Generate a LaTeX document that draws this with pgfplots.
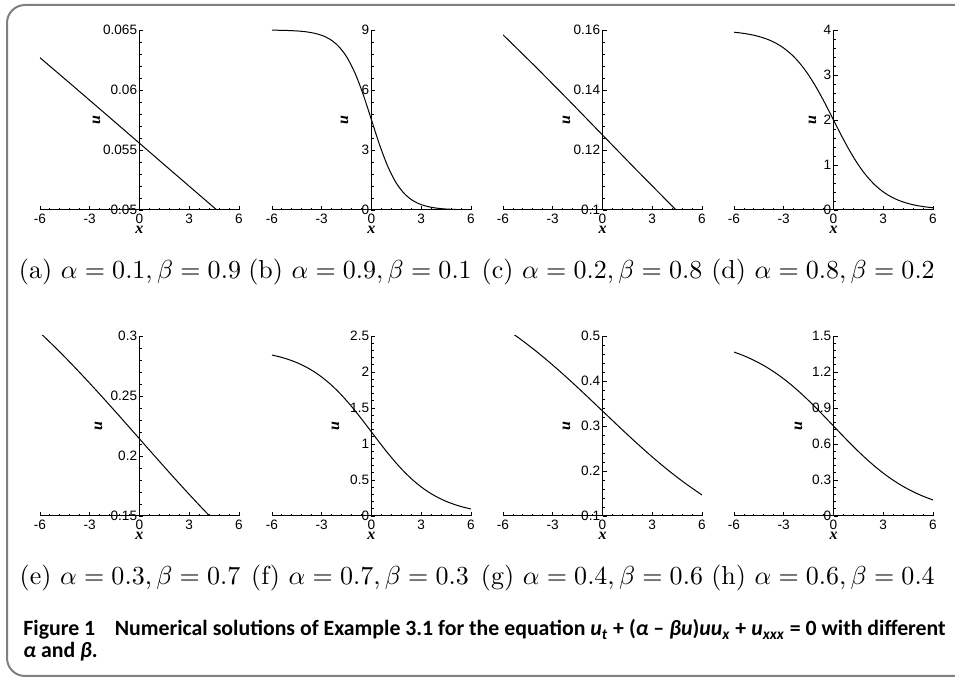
\documentclass[border=0pt]{standalone}
\usepackage{graphicx}
\usepackage{fontspec}
\usepackage{pgfplots}
\pgfplotsset{compat=1.18}
\newfontfamily\ticksf{Liberation Sans}
\newfontfamily\labsf{Liberation Serif}
\newfontfamily\capsf{Carlito}
\newcommand\tickfont{\fontsize{6.8}{8}\selectfont\ticksf}
\newcommand\labfont{\fontsize{8}{9}\selectfont\labsf\bfseries\itshape}
\newcommand\sub[1]{\scalebox{1.3}{#1}}

\pgfplotsset{
  panel/.style={
    scale only axis, width=99.5pt, height=90pt,
    axis x line=bottom, axis y line=center,
    axis line style={-, line width=0.5pt, black},
    hide obscured x ticks=false, hide obscured y ticks=false,
    scaled y ticks=false, scaled x ticks=false,
    xmin=-6, xmax=6, xtick={-6,-3,0,3,6},
    xticklabels={-6,-3,0,3,6},
    minor x tick num=4, minor y tick num=4,
    tick align=inside, major tick length=2pt, minor tick length=1.2pt,
    tick style={line width=0.45pt, black},
    ticklabel style={font=\tickfont},
    xticklabel style={inner sep=1.8pt},
    yticklabel style={inner sep=1pt},
    /pgf/number format/assume math mode=true,
    xlabel={x}, ylabel={u},
    every axis x label/.style={at={(axis description cs:0.5,0)}, yshift=-10pt, anchor=center, font=\labfont, inner sep=0pt},
    clip=true,
  },
  ulab/.style={every axis y label/.style={at={(axis description cs:0.5,0.5)}, xshift=-#1, rotate=90, anchor=center, font=\labfont, inner sep=0pt}},
  curve/.style={black, line width=0.5pt, no marks},
}

\begin{document}
\begin{tikzpicture}
\useasboundingbox (0,0) rectangle (477.5pt,-339.5pt);
\draw[black!50, line width=1pt, rounded corners=9pt] (3.5pt,-2.5pt) rectangle (490pt,-338pt);

% (a)
\begin{axis}[panel, ulab=21.5pt, at={(20pt,-105pt)}, anchor=south west,
  ymin=0.05, ymax=0.065, ytick={0.05,0.055,0.06,0.065},
  yticklabels={0.05,0.055,0.06,0.065}]
\addplot[curve] coordinates {(-6,0.06269) (-4,0.06033) (-2,0.05795) (0,0.05556) (2,0.05317) (4,0.05079) (4.66,0.05000) (6,0.04842)};
\end{axis}

% (b)
\begin{axis}[panel, ulab=13.5pt, at={(136pt,-105pt)}, anchor=south west,
  ymin=0, ymax=9, ytick={0,3,6,9}, yticklabels={0,3,6,9}]
\addplot[curve, smooth] coordinates {
(-6,8.9916) (-5.5,8.985) (-5,8.973) (-4.5,8.952) (-4,8.915) (-3.5,8.848)
(-3,8.732) (-2.5,8.533) (-2,8.197) (-1.5,7.660) (-1,6.855) (-0.5,5.771)
(0,4.5) (0.5,3.229) (1,2.145) (1.5,1.340) (2,0.803) (2.5,0.467) (3,0.268)
(3.5,0.152) (4,0.085) (4.5,0.048) (5,0.027) (5.5,0.015) (6,0.0084)};
\end{axis}

% (c)
\begin{axis}[panel, ulab=18pt, at={(251.5pt,-105pt)}, anchor=south west,
  ymin=0.1, ymax=0.16, ytick={0.1,0.12,0.14,0.16},
  yticklabels={0.1,0.12,0.14,0.16}]
\addplot[curve] coordinates {(-6,0.15841) (-4,0.14757) (-2,0.13638) (0,0.125) (2,0.11362) (4,0.10243) (4.44,0.1) (6,0.09159)};
\end{axis}

% (d)
\begin{axis}[panel, ulab=10.5pt, at={(367pt,-105pt)}, anchor=south west,
  ymin=0, ymax=4, ytick={0,1,2,3,4}, yticklabels={0,1,2,3,4}]
\addplot[curve, smooth] coordinates {
(-6,3.9506) (-5.5,3.9292) (-5,3.8988) (-4.5,3.8558) (-4,3.7956) (-3.5,3.7120)
(-3,3.5978) (-2.5,3.4450) (-2,3.2464) (-1.5,2.9976) (-1,2.6994) (-0.5,2.3612)
(0,2) (0.5,1.6388) (1,1.3006) (1.5,1.0024) (2,0.7536) (2.5,0.5550) (3,0.4022)
(3.5,0.2880) (4,0.2044) (4.5,0.1442) (5,0.1012) (5.5,0.0708) (6,0.0494)};
\end{axis}

% (e)
\begin{axis}[panel, ulab=20.5pt, at={(20pt,-258pt)}, anchor=south west,
  ymin=0.15, ymax=0.3, ytick={0.15,0.2,0.25,0.3},
  yticklabels={0.15,0.2,0.25,0.3}]
\addplot[curve, smooth] coordinates {
(-6,0.30277) (-5,0.28939) (-4,0.27530) (-3,0.26060) (-2,0.24543) (-1,0.22995)
(0,0.21429) (1,0.19863) (2,0.18314) (3,0.16798) (4,0.15328) (5,0.13919) (6,0.12580)};
\end{axis}

% (f)
\begin{axis}[panel, ulab=18pt, at={(136pt,-258pt)}, anchor=south west,
  ymin=0, ymax=2.5, ytick={0,0.5,1,1.5,2,2.5},
  yticklabels={0,0.5,1,1.5,2,2.5}]
\addplot[curve, smooth] coordinates {
(-6,2.2357) (-5.5,2.2080) (-5,2.1733) (-4.5,2.1298) (-4,2.0758) (-3.5,2.0097)
(-3,1.9299) (-2.5,1.8353) (-2,1.7256) (-1.5,1.6013) (-1,1.4643) (-0.5,1.3180)
(0,1.16667) (0.5,1.0154) (1,0.8690) (1.5,0.7321) (2,0.6077) (2.5,0.4981)
(3,0.4034) (3.5,0.3236) (4,0.2575) (4.5,0.2036) (5,0.1601) (5.5,0.1253) (6,0.0977)};
\end{axis}

% (g)
\begin{axis}[panel, ulab=18pt, at={(251.5pt,-258pt)}, anchor=south west,
  ymin=0.1, ymax=0.5, ytick={0.1,0.2,0.3,0.4,0.5},
  yticklabels={0.1,0.2,0.3,0.4,0.5}]
\addplot[curve, smooth] coordinates {
(-6,0.51992) (-5,0.49438) (-4,0.46611) (-3,0.43536) (-2,0.40258) (-1,0.36834)
(0,0.33333) (1,0.29833) (2,0.26408) (3,0.23130) (4,0.20056) (5,0.17229) (6,0.14675)};
\end{axis}

% (h)
\begin{axis}[panel, ulab=17.5pt, at={(367pt,-258pt)}, anchor=south west,
  ymin=0, ymax=1.5, ytick={0,0.3,0.6,0.9,1.2,1.5},
  yticklabels={0,0.3,0.6,0.9,1.2,1.5}]
\addplot[curve, smooth] coordinates {
(-6,1.36625) (-5.5,1.34070) (-5,1.31096) (-4.5,1.27656) (-4,1.23722) (-3.5,1.19255)
(-3,1.14251) (-2.5,1.08716) (-2,1.02678) (-1.5,0.96192) (-1,0.89346) (-0.5,0.82239)
(0,0.75) (0.5,0.67761) (1,0.60654) (1.5,0.53808) (2,0.47322) (2.5,0.41284)
(3,0.35749) (3.5,0.30745) (4,0.26278) (4.5,0.22344) (5,0.18904) (5.5,0.15930) (6,0.13375)};
\end{axis}

% sub-captions
\begin{scope}[every node/.style={inner sep=0pt}]
\node at (65pt,-136pt) {\sub{(a)~$\alpha=0.1,\beta=0.9$}};
\node at (180pt,-136pt) {\sub{(b)~$\alpha=0.9,\beta=0.1$}};
\node at (296pt,-136pt) {\sub{(c)~$\alpha=0.2,\beta=0.8$}};
\node at (411.5pt,-136pt) {\sub{(d)~$\alpha=0.8,\beta=0.2$}};
\node at (65pt,-289pt) {\sub{(e)~$\alpha=0.3,\beta=0.7$}};
\node at (180pt,-289pt) {\sub{(f)~$\alpha=0.7,\beta=0.3$}};
\node at (296pt,-289pt) {\sub{(g)~$\alpha=0.4,\beta=0.6$}};
\node at (411.5pt,-289pt) {\sub{(h)~$\alpha=0.6,\beta=0.4$}};
\end{scope}

% figure caption
\begin{scope}[every node/.style={font=\fontsize{10.9}{12}\selectfont\capsf\bfseries, inner sep=0pt, anchor=base west}]
\node at (11.5pt,-318pt) {Figure 1\hspace{0.9em}Numerical solutions of Example 3.1 for the equation \textit{u}\textsubscript{\textit{t}} + (\textit{α} – \textit{βu})\textit{uu}\textsubscript{\textit{x}} + \textit{u}\textsubscript{\textit{xxx}} = 0 with different};
\node at (11.5pt,-329pt) {\textit{α} and \textit{β}.};
\end{scope}
\end{tikzpicture}
\end{document}
